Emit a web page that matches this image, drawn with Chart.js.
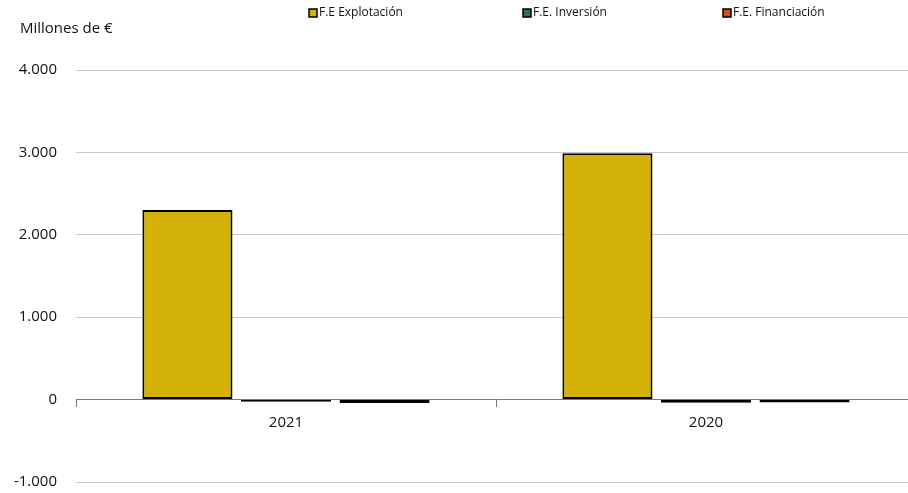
<!DOCTYPE html>
<html>
<head>
<meta charset="utf-8">
<script src="https://cdn.jsdelivr.net/npm/chart.js@4/dist/chart.umd.min.js"></script>
<style>
  html, body { margin: 0; padding: 0; background: #fff; overflow: hidden; }
  #wrap { width: 916px; height: 510px; }
</style>
</head>
<body>
<div id="wrap"><canvas id="grafico"></canvas></div>
<script>
// datos (millones de euros)
const years = ["2021", "2020"];
const explotacion = [2300, 2990];
const inversion = [-25, -38];
const financiacion = [-40, -35];
const yTicks = [-1000, 0, 1000, 2000, 3000, 4000];

const FONT = "'Open Sans', 'Noto Sans', sans-serif";

// leyenda y titulo del eje dibujados a mano para colocarlos como en el original
const extras = {
  id: "extras",
  afterDraw(chart) {
    const ctx = chart.ctx;
    ctx.save();
    ctx.fillStyle = "#111";
    ctx.font = "15px " + FONT;
    ctx.textBaseline = "middle";
    ctx.textAlign = "left";
    ctx.fillText("Millones de €", 20, 29);

    const xs = [309, 523, 723];
    ctx.font = "12px " + FONT;
    chart.data.datasets.forEach((ds, i) => {
      ctx.fillStyle = ds.backgroundColor;
      ctx.fillRect(xs[i], 9, 8, 8);
      ctx.strokeStyle = "#000";
      ctx.lineWidth = 1.5;
      ctx.strokeRect(xs[i], 9, 8, 8);
      ctx.fillStyle = "#111";
      ctx.fillText(ds.label, xs[i] + 10, 13);
    });
    ctx.restore();
  },
};

const data = {
  labels: years,
  datasets: [
    { label: "F.E Explotación", data: explotacion, backgroundColor: "#D3B106" },
    { label: "F.E. Inversión", data: inversion, backgroundColor: "#2E7248" },
    { label: "F.E. Financiación", data: financiacion, backgroundColor: "#D4520F" },
  ],
};

const config = {
  type: "bar",
  data: data,
  plugins: [extras],
  options: {
    responsive: true,
    maintainAspectRatio: false,
    animation: false,
    layout: { padding: { top: 70, bottom: 0, left: 0, right: 0 } },
    datasets: {
      bar: {
        borderColor: "#000",
        borderWidth: 2,
        borderSkipped: false,
        categoryPercentage: 0.704,
        barPercentage: 0.914,
      },
    },
    plugins: {
      legend: { display: false },
      tooltip: { enabled: false },
    },
    scales: {
      x: {
        position: { y: 0 },
        grid: {
          display: true,
          drawOnChartArea: false,
          offset: true,
          tickLength: 7,
          color: "#777",
        },
        border: { display: true, color: "#777", width: 1 },
        ticks: { color: "#111", font: { family: FONT, size: 15 }, padding: 7 },
      },
      y: {
        min: -1000,
        max: 4000,
        afterFit(scale) { scale.width = 76; },
        afterBuildTicks(scale) { scale.ticks = yTicks.map(v => ({ value: v })); },
        border: { display: false },
        grid: { color: "#c8c8c8", drawTicks: false },
        ticks: {
          color: "#111",
          padding: 19,
          font: { family: FONT, size: 15 },
          callback: v => v.toLocaleString("de-DE"),
        },
      },
    },
  },
};

const grafico = new Chart(document.getElementById("grafico"), config);
</script>
</body>
</html>
